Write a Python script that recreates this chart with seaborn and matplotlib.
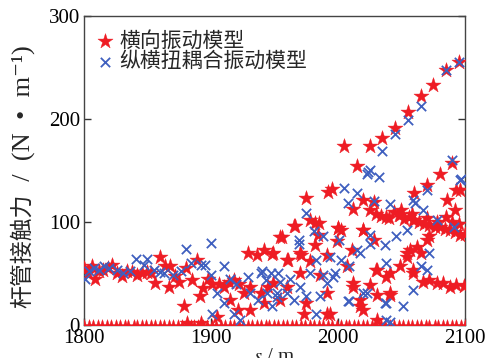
import matplotlib
matplotlib.use("Agg")
import matplotlib.pyplot as plt
import seaborn as sns
import pandas as pd

# ---------------- data ----------------
# 横向振动模型 (red stars)
red_s = [
    # zero line
    1800, 1804, 1807, 1811, 1814, 1818, 1821, 1825, 1828, 1832, 1835, 1839, 1842,
    1846, 1849, 1853, 1856, 1860, 1863, 1867, 1870, 1874, 1877, 1881, 1884, 1887,
    1890, 1894, 1897, 1901, 1904, 1908, 1911, 1915, 1918, 1922, 1925, 1929, 1932,
    1936, 1939, 1943, 1946, 1950, 1953, 1957, 1960, 1964, 1967, 1971, 1974, 1978,
    1981, 1985, 1988, 1992, 1995, 1999, 2002, 2006, 2009, 2013, 2016, 2020, 2023,
    2027, 2030, 2034, 2037, 2041, 2044, 2048, 2051, 2055, 2058, 2062, 2065, 2069,
    2072, 2076, 2079, 2083, 2086, 2090, 2093, 2097, 2100,
    # left band
    1800, 1803, 1806, 1809, 1812, 1815, 1819, 1822, 1826, 1830, 1834, 1838, 1842,
    1846, 1850, 1853, 1856, 1860, 1864, 1868, 1867, 1872, 1875, 1880, 1885, 1889,
    1891, 1879, 1894, 1898, 1901, 1906, 1910, 1914, 1918, 1922, 1926, 1929, 1931,
    1936, 1939, 1942, 1945, 1915, 1905, 1921, 1931, 1942, 1881, 1892, 1948, 1956,
    1961, 1966, 1970, 1978, 1982, 1984,
    # middle
    1949, 1960, 1971, 1991, 2011, 2030, 2041, 2059, 2054, 2062, 2070, 1970, 1986,
    2012, 2025, 2067, 2078, 2088, 2099, 1960, 1949, 2007, 1991, 2017, 2031, 2041,
    1975, 1994, 2020, 1954, 1973, 2000, 1999, 2002, 2020, 2028, 2057, 2054, 2065,
    2049, 2059, 2038, 2072, 2083, 2093, 2012, 2031, 2041, 2017, 1991, 2031,
    # upper-middle band
    1965, 1954, 1985, 2000, 2020, 2012, 2025, 2038, 2049, 2059, 2072, 2080, 2096,
    2030, 2034, 2040, 2044, 2048, 2052, 2056, 2060, 2064, 2068, 2076, 2084, 2088,
    2092, 2100, 2050, 2058, 2070, 2078, 2085, 2090, 2095, 2072, 2020, 2028,
    # upper branches
    1975, 1992, 1995, 2086, 2092, 2096, 2093, 2060, 2070, 2080, 2090, 2015,
    2005, 2025, 2035, 2045, 2055, 2065, 2075, 2085, 2095, 1982, 1978,
]
red_f = [
    # zero line (centres just below the axis)
    -2, -2, -2, -2, -2, -2, -2, -2, -2, -2, -2, -2, -2,
    -2, -2, -2, -2, -2, -2, -2, -2, -2, -2, -2, -2, -2,
    -2, -2, -2, -2, -2, -2, -2, -2, -2, -2, -2, -2, -2,
    -2, -2, -2, -2, -2, -2, -2, -2, -2, -2, -2, -2, -2,
    -2, -2, -2, -2, -2, -2, -2, -2, -2, -2, -2, -2, -2,
    -2, -2, -2, -2, -2, -2, -2, -2, -2, -2, -2, -2, -2,
    -2, -2, -2, -2, -2, -2, -2, -2, -2,
    # left band
    55, 50, 57, 45, 52, 53, 55, 58, 50, 48, 52, 51, 49,
    50, 51, 50, 41, 66, 57, 57, 37, 48, 42, 55, 44, 63,
    28, 18, 36, 45, 40, 40, 37, 42, 44, 40, 31, 70, 37,
    68, 31, 73, 37, 24, 8, 15, 15, 21, 2, 2, 69, 85,
    63, 96, 70, 102, 99, 87,
    # middle
    70, 63, 68, 68, 73, 53, 50, 50, 70, 76, 83, 50, 49,
    37, 39, 42, 41, 37, 38, 37, 41, 57, 31, 24, 29, 29,
    21, 11, 15, 24, 11, 94, 82, 92, 92, 83, 73, 66, 70,
    57, 53, 47, 44, 41, 39, 41, 53, 31, 18, 11, 5,
    # upper-middle band
    96, 85, 99, 94, 92, 113, 112, 105, 107, 102, 97, 95, 87,
    108, 106, 104, 110, 107, 103, 105, 102, 100, 98, 95, 93, 92,
    90, 88, 112, 108, 104, 100, 105, 100, 98, 86, 121, 119,
    # upper branches
    123, 129, 132, 121, 112, 131, 131, 128, 136, 147, 157, 154,
    174, 174, 182, 191, 207, 222, 233, 248, 255, 78, 62,
]

# 纵横扭耦合振动模型 (blue crosses)
blue_s = [
    1801, 1804, 1808, 1812, 1816, 1820, 1826, 1831, 1836, 1841, 1847, 1850, 1855,
    1860, 1863, 1870, 1876, 1880, 1884, 1892, 1900, 1900, 1910, 1915, 1920, 1929,
    1939, 1943, 1947, 1905, 1910, 1901, 1918, 1923, 1937, 1944, 1931, 1895, 1953,
    1940, 1965, 1952, 1969, 1975, 1983,
    2024, 2032, 2005, 2015, 2028, 2008, 2097, 2059, 2041, 2067, 2078, 2046, 2025,
    1981, 1988, 1969, 2025, 2037, 2072, 1983, 1994, 2002, 2009, 2017, 2038, 2065,
    2070, 1978, 1988, 1998, 1962, 1954, 1970, 1975, 1986, 1960, 1952, 1948, 2009,
    2023, 2038, 2051, 2059, 2038, 2070, 2061, 2091, 2054, 2001, 2015, 1996, 1991,
    2037, 2008, 2020, 2041,
    2035, 2045, 2055, 2065, 2085, 2095, 2025, 2090, 2023, 2096,
]
blue_f = [
    45, 52, 55, 53, 57, 55, 53, 50, 52, 64, 58, 64, 53,
    51, 50, 49, 52, 74, 60, 58, 80, 49, 57, 45, 40, 47,
    50, 44, 50, 31, 21, 11, 11, 5, 24, 31, 31, 58, 50,
    52, 24, 27, 79, 109, 11,
    149, 144, 133, 128, 120, 118, 142, 121, 117, 112, 102, 86, 87,
    91, 86, 83, 79, 78, 70, 63, 66, 63, 57, 70, 60, 57,
    53, 50, 49, 50, 45, 42, 37, 28, 28, 31, 31, 18, 23,
    31, 21, 18, 34, 5, 131, 118, 95, 92, 83, 73, 47, 41,
    21, 23, 31, 3,
    169, 185, 199, 213, 248, 255, 150, 160, 147, 141,
]

labels = ["横向振动模型", "纵横扭耦合振动模型"]
x_ticks = [1800, 1900, 2000, 2100]
y_ticks = [0, 100, 200, 300]
ylabel_cjk = "杆管接触力"
ylabel_unit = "  /  (N  •  m⁻¹)"

df_red = pd.DataFrame({"s": red_s, "F": red_f})
df_blue = pd.DataFrame({"s": blue_s, "F": blue_f})

# ---------------- style ----------------
sns.set_theme(style="ticks")
plt.rcParams["font.family"] = ["Liberation Serif", "Noto Sans CJK SC", "DejaVu Sans"]
plt.rcParams["mathtext.fontset"] = "stix"
plt.rcParams["axes.unicode_minus"] = False

fig = plt.figure(figsize=(4.92, 3.58), dpi=100)
ax = fig.add_axes([0.1707, 0.0922, 0.7744, 0.8631])

red = "#ee1c24"
blue = "#3f5fbf"

sns.scatterplot(data=df_red, x="s", y="F", marker="*", s=130, color=red,
                edgecolor=red, linewidth=0.3, ax=ax, label=labels[0], zorder=3)
sns.scatterplot(data=df_blue, x="s", y="F", marker="x", s=45, color=blue,
                linewidth=1.3, ax=ax, label=labels[1], zorder=4)

ax.set_xlim(1800, 2100)
ax.set_ylim(0, 300)
ax.set_xticks(x_ticks)
ax.set_yticks(y_ticks)
ax.tick_params(direction="in", length=5, width=1, labelsize=15, right=True,
               top=False, colors="#333333", labelcolor="black", pad=3)

for sp in ax.spines.values():
    sp.set_color("#444444")
    sp.set_linewidth(1.0)

ax.set_xlabel("$s$ / m", fontsize=15, labelpad=0)
ax.set_ylabel("")

# y label in two pieces (CJK part + larger serif unit part)
t1 = fig.text(23 / 492, 1 - 308 / 358, ylabel_cjk, rotation=90, ha="center",
              va="bottom", fontsize=16.5, family=["Noto Sans CJK SC"])
fig.canvas.draw()
bb = t1.get_window_extent(fig.canvas.get_renderer())
y_top = bb.y1 / fig.bbox.height
fig.text(23 / 492, y_top, ylabel_unit, rotation=90, ha="center", va="bottom",
         fontsize=19, family=["Liberation Serif", "DejaVu Sans"])

leg = ax.legend(loc="upper left", bbox_to_anchor=(-0.01, 0.99), frameon=False,
                fontsize=15, handletextpad=0.1, labelspacing=0.05,
                borderaxespad=0.2, handlelength=1.2)

fig.savefig("out.png", dpi=100)
